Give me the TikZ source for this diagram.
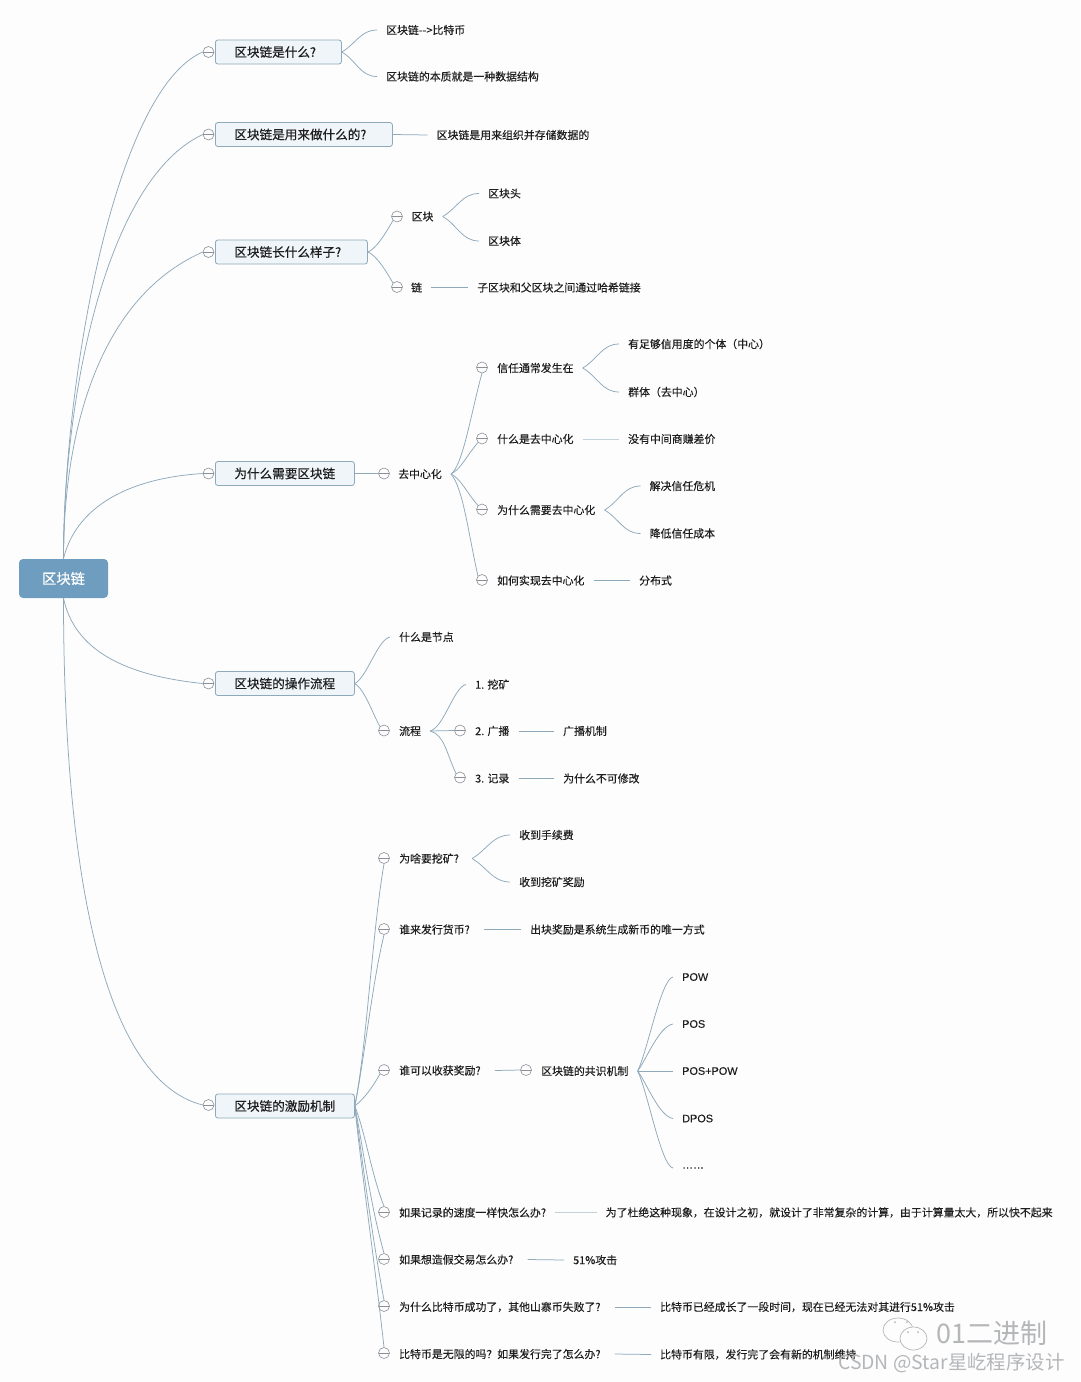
\documentclass[tikz,border=0pt]{standalone}
\usepackage{fontspec}
\usepackage{xcolor}
\usepackage{tikz}
\usetikzlibrary{positioning,calc}
\setmainfont[FakeBold=0.15]{Noto Sans CJK SC}
\newfontfamily\topicfont[FakeBold=0.5]{Noto Sans CJK SC}
\newfontfamily\latinfont[FakeBold=0.1]{Liberation Sans}
\newfontfamily\markfont{Noto Sans CJK SC}
\definecolor{mapline}{HTML}{8EA9BA}
\definecolor{mappale}{HTML}{C3D3DC}
\definecolor{mapfill}{HTML}{EFF5F9}
\definecolor{maproot}{HTML}{6F9DBF}
\definecolor{mapfold}{HTML}{8C9096}
\definecolor{mappage}{HTML}{FDFDFE}
\definecolor{mapink}{HTML}{1E1E1E}
\definecolor{mapmark}{HTML}{B4B6B8}

\begin{document}
\begin{tikzpicture}[
  x=1pt,y=-1pt,
  font=\fontsize{10.9}{13}\selectfont,
  rootbox/.style={draw=none,fill=maproot,rounded corners=4pt,minimum width=89pt,minimum height=39pt,inner sep=0pt,text=white,font=\topicfont\fontsize{14.3}{16}\selectfont},
  topic/.style={draw=mapline,fill=mapfill,rounded corners=2.5pt,line width=0.8pt,anchor=west,minimum height=24pt,inner xsep=19pt,inner ysep=0pt,text width=#1,align=left,text=mapink,font=\topicfont\fontsize{12.6}{15}\selectfont},
  leaf/.style={anchor=west,inner xsep=9pt,inner ysep=2pt,text=mapink},
  term/.style={leaf,font=\latinfont\fontsize{10.9}{13}\selectfont},
  fold/.style={circle,draw=mapfold,fill=mappage,line width=0.6pt,minimum size=11pt,inner sep=0pt,path picture={\draw[mapfold,line width=0.6pt] (path picture bounding box.west) -- (path picture bounding box.east);}},
  wmark/.style={anchor=west,inner sep=0pt,text=mapmark},
  link/.style={draw=mapline,line width=0.75pt},
  palelink/.style={draw=mappale,line width=0.75pt}
]
  \path[use as bounding box,fill=mappage] (0,0) rectangle (1080,1382);

  \node[rootbox] (root) at (63.5,578.5) {区块链};

  \node[topic=88pt] (what) at (215,52) {区块链是什么?};
  \node[fold] (fwhat) at (208.5,52) {};
  \node[leaf] (whatA) at (377,30) {区块链-{}->比特币};
  \node[leaf] (whatB) at (377,76.5) {区块链的本质就是一种数据结构};

  \node[topic=139pt] (use) at (215,134.5) {区块链是用来做什么的?};
  \node[fold] (fuse) at (208.5,134.5) {};
  \node[leaf] (useA) at (427.5,135) {区块链是用来组织并存储数据的};

  \node[topic=114pt] (look) at (215,252) {区块链长什么样子?};
  \node[fold] (flook) at (208.5,252) {};
  \node[fold] (fblock) at (397,216.5) {};
  \node[leaf] (block) at (402.5,216.5) {区块};
  \node[leaf] (blockA) at (479,193.5) {区块头};
  \node[leaf] (blockB) at (479,241) {区块体};
  \node[fold] (fchain) at (397,287) {};
  \node[leaf] (chain) at (402,287.5) {链};
  \node[leaf] (chainA) at (468,287.5) {子区块和父区块之间通过哈希链接};

  \node[topic=101pt] (why) at (215,473.5) {为什么需要区块链};
  \node[fold] (fwhy) at (208.5,473.5) {};
  \node[fold] (fdec) at (384,473.5) {};
  \node[leaf] (dec) at (389,474) {去中心化};
  \node[fold] (ftrust) at (482,367.5) {};
  \node[leaf] (trust) at (488,368) {信任通常发生在};
  \node[leaf] (trustA) at (619,344) {有足够信用度的个体（中心）};
  \node[leaf] (trustB) at (619,392) {群体（去中心）};
  \node[fold] (fmean) at (482,438.5) {};
  \node[leaf] (mean) at (488,439) {什么是去中心化};
  \node[leaf] (meanA) at (619,439) {没有中间商赚差价};
  \node[fold] (fneed) at (482,509.5) {};
  \node[leaf] (need) at (488,510) {为什么需要去中心化};
  \node[leaf] (needA) at (640.5,486) {解决信任危机};
  \node[leaf] (needB) at (640.5,533.5) {降低信任成本};
  \node[fold] (fhow) at (482,580) {};
  \node[leaf] (how) at (488,580.5) {如何实现去中心化};
  \node[leaf] (howA) at (630,580.5) {分布式};

  \node[topic=101pt] (ops) at (215,683.5) {区块链的操作流程};
  \node[fold] (fops) at (208.5,683.5) {};
  \node[leaf] (opsA) at (390,637) {什么是节点};
  \node[fold] (fproc) at (384,730.5) {};
  \node[leaf] (proc) at (390,731) {流程};
  \node[leaf] (mine) at (466,684.5) {1. 挖矿};
  \node[fold] (fcast) at (460,730.5) {};
  \node[leaf] (cast) at (466,731) {2. 广播};
  \node[leaf] (castA) at (554,731) {广播机制};
  \node[fold] (frec) at (460,777.5) {};
  \node[leaf] (rec) at (466,778.5) {3. 记录};
  \node[leaf] (recA) at (554,778.5) {为什么不可修改};

  \node[topic=101pt] (reward) at (215,1106) {区块链的激励机制};
  \node[fold] (freward) at (208.5,1105) {};
  \node[fold] (fqa) at (384,858) {};
  \node[leaf,inner xsep=13pt] (qa) at (386,858.5) {为啥要挖矿?};
  \node[leaf] (qaA) at (510,835) {收到手续费};
  \node[leaf] (qaB) at (510,882) {收到挖矿奖励};
  \node[fold] (fqb) at (384,929) {};
  \node[leaf,inner xsep=14pt] (qb) at (385,929.5) {谁来发行货币?};
  \node[leaf] (qbA) at (521,929.5) {出块奖励是系统生成新币的唯一方式};
  \node[fold] (fqc) at (384,1070) {};
  \node[leaf,inner xsep=14pt] (qc) at (385,1070.5) {谁可以收获奖励?};
  \node[fold] (fcons) at (526,1070) {};
  \node[leaf] (cons) at (532,1071) {区块链的共识机制};
  \node[term] (pow) at (673,977) {POW};
  \node[term] (pos) at (673,1024) {POS};
  \node[term] (mix) at (673,1071) {POS+POW};
  \node[term] (dpos) at (673,1118.5) {DPOS};
  \node[term] (more) at (673,1168) {……};
  \node[fold] (fqd) at (384,1212) {};
  \node[leaf] (qd) at (390,1212.5) {如果记录的速度一样快怎么办?};
  \node[leaf] (qdA) at (596.5,1212.5) {为了杜绝这种现象，在设计之初，就设计了非常复杂的计算，由于计算量太大，所以快不起来};
  \node[fold] (fqe) at (384,1259) {};
  \node[leaf,inner xsep=14pt] (qe) at (385,1259.5) {如果想造假交易怎么办?};
  \node[leaf] (qeA) at (564,1260) {51\%攻击};
  \node[fold] (fqf) at (384,1306) {};
  \node[leaf,inner xsep=14pt] (qf) at (385,1307) {为什么比特币成功了，其他山寨币失败了?};
  \node[leaf] (qfA) at (651,1307) {比特币已经成长了一段时间，现在已经无法对其进行51\%攻击};
  \node[fold] (fqg) at (384,1353) {};
  \node[leaf,inner xsep=14pt] (qg) at (385,1354) {比特币是无限的吗？如果发行完了怎么办?};
  \node[leaf] (qgA) at (651,1354.5) {比特币有限，发行完了会有新的机制维持};

  \draw[link] (root.north) .. controls +(0,-179) and +(-88,38) .. (fwhat.west);
  \draw[link] (root.north) .. controls +(0,-159) and +(-98,46) .. (fuse.west);
  \draw[link] (root.north) .. controls +(0,-119) and +(-108,48) .. (flook.west);
  \draw[link] (root.north) .. controls +(9,-39) and +(-93,6) .. (fwhy.west);
  \draw[link] (root.south) .. controls +(11,52) and +(-78,-8) .. (fops.west);
  \draw[link] (root.south) .. controls +(0,262) and +(-103,-26) .. (freward.west);

  \draw[link] (what.east) to[out=30,in=180] (whatA.west);
  \draw[link] (what.east) to[out=-30,in=180] (whatB.west);
  \draw[link] (use.east) -- (useA.west);
  \draw[link] (look.east) .. controls +(8,-3) and +(-8,14) .. (fblock.south west);
  \draw[link] (look.east) .. controls +(8,3) and +(-8,-14) .. (fchain.north west);
  \draw[link] (block.east) to[out=30,in=180] (blockA.west);
  \draw[link] (block.east) to[out=-30,in=180] (blockB.west);
  \draw[link] (chain.east) -- (chainA.west);

  \draw[link] (why.east) -- (fdec.west);
  \draw[link] (dec.east) .. controls +(12,-8) and +(-10,35) .. (ftrust.south);
  \draw[link] (dec.east) .. controls +(10,-5) and +(-12,14) .. (fmean.south west);
  \draw[link] (dec.east) .. controls +(10,5) and +(-12,-14) .. (fneed.north west);
  \draw[link] (dec.east) .. controls +(12,14) and +(-10,-45) .. (fhow.north west);
  \draw[link] (trust.east) to[out=30,in=180] (trustA.west);
  \draw[link] (trust.east) to[out=-30,in=180] (trustB.west);
  \draw[palelink] (mean.east) -- (meanA.west);
  \draw[link] (need.east) to[out=30,in=180] (needA.west);
  \draw[link] (need.east) to[out=-30,in=180] (needB.west);
  \draw[link] (how.east) -- (howA.west);

  \draw[link] (ops.east) .. controls +(12,-6) and +(-12,2) .. (opsA.west);
  \draw[link] (ops.east) .. controls +(10,6) and +(-7,-12) .. (fproc.north west);
  \draw[link] (proc.east) .. controls +(14,-4) and +(-12,2) .. (mine.west);
  \draw[link] (proc.east) -- (fcast.west);
  \draw[link] (proc.east) .. controls +(14,4) and +(-10,-22) .. (frec.north west);
  \draw[link] (cast.east) -- (castA.west);
  \draw[link] (rec.east) -- (recA.west);

  \draw[link] (reward.east) .. controls +(12,-60) and +(-12,70) .. (fqa.south);
  \draw[link] (reward.east) .. controls +(10,-50) and +(-12,50) .. (fqb.south);
  \draw[link] (reward.east) .. controls +(10,-8) and +(-8,14) .. (fqc.south west);
  \draw[link] (reward.east) .. controls +(10,25) and +(-12,-30) .. (fqd.north);
  \draw[link] (reward.east) .. controls +(8,40) and +(-14,-50) .. (fqe.north);
  \draw[link] (reward.east) .. controls +(7,50) and +(-13,-70) .. (fqf.north);
  \draw[link] (reward.east) .. controls +(6,60) and +(-10,-90) .. (fqg.north);

  \draw[link] (qa.east) to[out=30,in=180] (qaA.west);
  \draw[link] (qa.east) to[out=-30,in=180] (qaB.west);
  \draw[link] (qb.east) -- (qbA.west);
  \draw[link] (qc.east) -- (fcons.west);
  \draw[link] (cons.east) .. controls +(10,-20) and +(-12,2) .. (pow.west);
  \draw[link] (cons.east) .. controls +(8,-10) and +(-14,2) .. (pos.west);
  \draw[link] (cons.east) -- (mix.west);
  \draw[link] (cons.east) .. controls +(8,10) and +(-14,-2) .. (dpos.west);
  \draw[link] (cons.east) .. controls +(10,20) and +(-12,-2) .. (more.west);
  \draw[palelink] (qd.east) -- (qdA.west);
  \draw[link] (qe.east) -- (qeA.west);
  \draw[link] (qf.east) -- (qfA.west);
  \draw[link] (qg.east) -- (qgA.west);

  % watermark
  \draw[mapmark,line width=0.7pt] (898,1330) ellipse [x radius=15,y radius=12];
  \draw[mapmark,line width=0.7pt,fill=mappage] (913.5,1338.5) ellipse [x radius=13.5,y radius=11.5];
  \fill[mapmark] (895,1322) circle (1) (907,1322) circle (1) (908,1332) circle (1) (918,1332) circle (1);
  \node[wmark,font=\markfont\fontsize{27}{30}\selectfont] (wechat) at (936,1333) {01二进制};
  \node[wmark,font=\markfont\fontsize{19.4}{22}\selectfont] (csdn) at (838,1363) {CSDN @Star星屹程序设计};
\end{tikzpicture}
\end{document}
